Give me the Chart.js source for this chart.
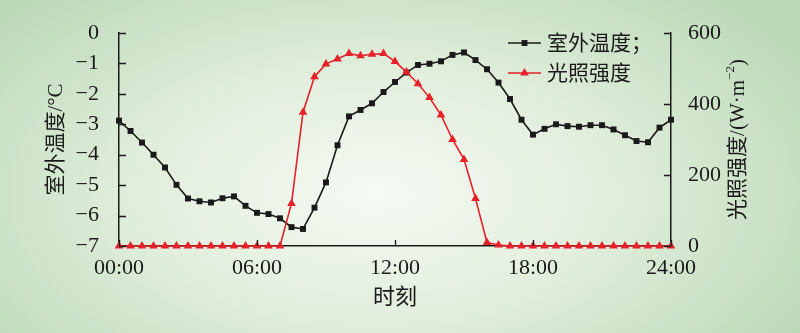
<!DOCTYPE html>
<html>
<head>
<meta charset="utf-8">
<script src="https://cdn.jsdelivr.net/npm/chart.js@4.4.0/dist/chart.umd.min.js"></script>
<style>
  html, body { margin: 0; padding: 0; }
  body {
    width: 800px; height: 333px; overflow: hidden;
    background: radial-gradient(ellipse 62% 80% at 47% 58%, #f6faf4 0%, #e2efdd 45%, #bcd9b8 100%);
  }
  canvas { display: block; }
</style>
</head>
<body>
<canvas id="c" width="800" height="333"></canvas>
<script>
// ── DATA ────────────────────────────────────────────
const times = [
  '00:00','00:30','01:00','01:30','02:00','02:30','03:00','03:30','04:00','04:30',
  '05:00','05:30','06:00','06:30','07:00','07:30','08:00','08:30','09:00','09:30',
  '10:00','10:30','11:00','11:30','12:00','12:30','13:00','13:30','14:00','14:30',
  '15:00','15:30','16:00','16:30','17:00','17:30','18:00','18:30','19:00','19:30',
  '20:00','20:30','21:00','21:30','22:00','22:30','23:00','23:30','24:00'
];
const tempOut = [
  -2.88,-3.22,-3.60,-4.00,-4.42,-4.99,-5.44,-5.53,-5.57,-5.43,
  -5.37,-5.68,-5.91,-5.95,-6.09,-6.38,-6.44,-5.74,-4.91,-3.69,
  -2.74,-2.53,-2.31,-1.94,-1.61,-1.30,-1.05,-1.01,-0.93,-0.72,
  -0.64,-0.89,-1.19,-1.63,-2.17,-2.85,-3.34,-3.15,-3.00,-3.06,
  -3.08,-3.03,-3.03,-3.17,-3.36,-3.55,-3.59,-3.11,-2.85
];
const light = [
  0,0,0,0,0,0,0,0,0,0,
  0,0,0,0,0,120,377,477,513,527,
  542,536,540,542,520,490,457,418,369,300,
  244,134,10,3,0,0,0,0,0,0,
  0,0,0,0,0,0,0,0,0
];
const seriesNames = ['室外温度；', '光照强度'];
const tempTicks = [0, -1, -2, -3, -4, -5, -6, -7];
const lightTicks = [0, 200, 400, 600];
const xTickLabels = ['00:00', '06:00', '12:00', '18:00', '24:00'];

// ── STYLE ───────────────────────────────────────────
const SERIF = "'Liberation Serif', 'Noto Sans CJK SC', serif";
const INK = '#1a1a1a';
const RED = '#e62129';

// inward tick marks + right title + legend
const decor = {
  id: 'decor',
  afterDraw(chart) {
    const {ctx, chartArea: a, scales} = chart;
    ctx.save();
    ctx.strokeStyle = INK;
    ctx.lineWidth = 1.3;
    ctx.beginPath();
    tempTicks.forEach(v => {
      const y = Math.round(scales.y.getPixelForValue(v)) + 0.5;
      ctx.moveTo(a.left, y); ctx.lineTo(a.left + 7, y);
    });
    lightTicks.forEach(v => {
      const y = Math.round(scales.y1.getPixelForValue(v)) + 0.5;
      ctx.moveTo(a.right, y); ctx.lineTo(a.right - 7, y);
    });
    xTickLabels.forEach(t => {
      const x = Math.round(scales.x.getPixelForValue(times.indexOf(t))) + 0.5;
      ctx.moveTo(x, a.bottom); ctx.lineTo(x, a.bottom - 6);
    });
    ctx.stroke();

    // right axis title, reading bottom-to-top
    ctx.translate(738, (a.top + a.bottom) / 2);
    ctx.rotate(-Math.PI / 2);
    ctx.fillStyle = INK;
    ctx.textBaseline = 'middle';
    ctx.font = '21px ' + SERIF;
    const p1 = '光照强度/(W·m', sup = '−2', p2 = ')';
    const w1 = ctx.measureText(p1).width, w3 = ctx.measureText(p2).width;
    ctx.font = '13px ' + SERIF;
    const w2 = ctx.measureText(sup).width;
    let x = -(w1 + w2 + w3) / 2;
    ctx.font = '21px ' + SERIF;
    ctx.fillText(p1, x, 0); x += w1;
    ctx.font = '13px ' + SERIF;
    ctx.fillText(sup, x, -7); x += w2;
    ctx.font = '21px ' + SERIF;
    ctx.fillText(p2, x, 0);
    ctx.restore();

    // legend
    ctx.save();
    chart.data.datasets.forEach((ds, i) => {
      const y = 43 + i * 30;
      ctx.strokeStyle = ds.borderColor;
      ctx.lineWidth = ds.borderWidth;
      ctx.beginPath(); ctx.moveTo(508, y); ctx.lineTo(541, y); ctx.stroke();
      ctx.fillStyle = ds.pointBackgroundColor;
      Chart.helpers.drawPoint(ctx, {pointStyle: ds.pointStyle, radius: ds.pointRadius, borderWidth: 0}, 524.5, y);
      ctx.fillStyle = INK;
      ctx.font = '21px ' + SERIF;
      ctx.textBaseline = 'middle';
      ctx.fillText(ds.label, 547, y + 1);
    });
    ctx.restore();
  }
};

new Chart(document.getElementById('c'), {
  type: 'line',
  data: {
    labels: times,
    datasets: [{
      label: seriesNames[0],
      data: tempOut,
      yAxisID: 'y',
      borderColor: INK,
      backgroundColor: INK,
      pointBackgroundColor: INK,
      pointBorderWidth: 0,
      pointStyle: 'rect',
      pointRadius: 4.2,
      borderWidth: 1.6,
      tension: 0,
      clip: false,
      order: 2
    }, {
      label: seriesNames[1],
      data: light,
      yAxisID: 'y1',
      borderColor: RED,
      backgroundColor: RED,
      pointBackgroundColor: RED,
      pointBorderWidth: 0,
      pointStyle: 'triangle',
      pointRadius: 5,
      borderWidth: 1.6,
      tension: 0,
      clip: false,
      order: 1
    }]
  },
  options: {
    responsive: false,
    animation: false,
    devicePixelRatio: 1,
    layout: { padding: { top: 33, left: 0, right: 0, bottom: 0 } },
    plugins: { legend: { display: false }, tooltip: { enabled: false } },
    scales: {
      x: {
        type: 'category',
        offset: false,
        grid: { display: false },
        border: { display: true, color: INK, width: 1.5 },
        ticks: {
          autoSkip: false, maxRotation: 0, padding: 1,
          color: INK, font: { family: SERIF, size: 22 },
          callback: (v, i) => xTickLabels.includes(times[i]) ? times[i] : null
        },
        title: {
          display: true, text: '时刻', color: INK,
          font: { family: SERIF, size: 22, lineHeight: 1.2 },
          padding: { top: 0, bottom: 22 }
        },
        afterFit: s => { s.height = 87; }
      },
      y: {
        position: 'left',
        min: -7, max: 0,
        grid: { display: false },
        border: { display: true, color: INK, width: 1.5 },
        ticks: {
          stepSize: 1, padding: 12, color: INK,
          font: { family: SERIF, size: 22 },
          callback: v => v < 0 ? '−' + Math.abs(v) : String(v)
        },
        title: {
          display: true, text: '室外温度/°C', color: INK,
          font: { family: SERIF, size: 21, lineHeight: 1.2 },
          padding: { top: 44, bottom: 0 }
        },
        afterFit: s => { s.width = 119; }
      },
      y1: {
        position: 'right',
        min: 0, max: 600,
        grid: { display: false },
        border: { display: true, color: INK, width: 1.5 },
        ticks: {
          stepSize: 200, padding: 9, color: INK,
          font: { family: SERIF, size: 22 }
        },
        afterFit: s => { s.width = 129; }
      }
    }
  },
  plugins: [decor]
});
</script>
</body>
</html>
